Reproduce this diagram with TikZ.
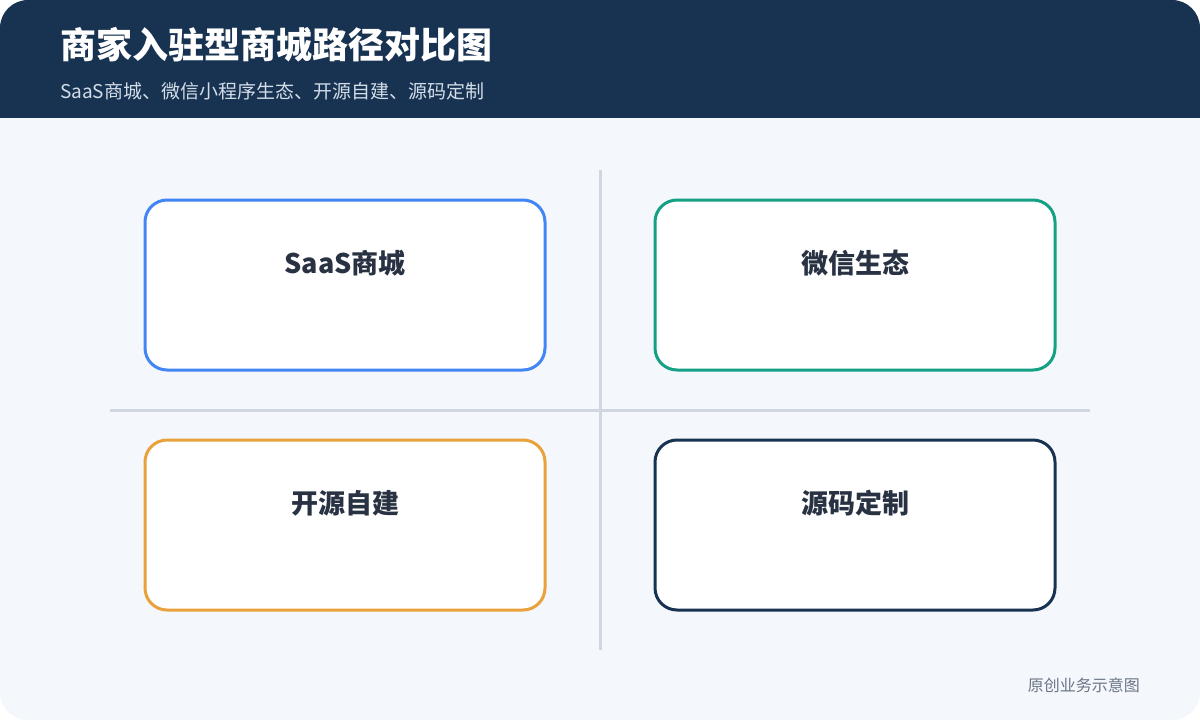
\documentclass[tikz,border=0pt]{standalone}
\usepackage{fontspec}
\setmainfont{Noto Sans CJK SC}
\definecolor{navy}{HTML}{183352}
\definecolor{bgc}{HTML}{F4F7FC}
\definecolor{gridc}{HTML}{D0D7E1}
\definecolor{blu}{HTML}{4285F4}
\definecolor{teal}{HTML}{14A085}
\definecolor{orng}{HTML}{E9A23B}
\definecolor{txt}{HTML}{283242}
\definecolor{subc}{HTML}{D3DDE8}
\definecolor{footc}{HTML}{6B7585}
\tikzset{
  card/.style={draw, line width=3pt, fill=white, rounded corners=22pt, minimum width=400pt, minimum height=170pt, outer sep=0pt, anchor=north west},
  cardlabel/.style={font=\fontsize{27}{32}\selectfont\bfseries, text=txt, anchor=center},
  gridline/.style={draw=gridc, line width=3pt}
}
\begin{document}
\begin{tikzpicture}[x=1pt,y=-1pt]
\useasboundingbox (0,0) rectangle (1200,720);
\fill[white] (0,0) rectangle (1200,720);
\begin{scope}
\clip[rounded corners=28pt] (0,0) rectangle (1200,720);
\fill[bgc] (0,0) rectangle (1200,720);
\fill[navy] (0,0) rectangle (1200,118);
\end{scope}
\node[anchor=base west, text=white, font=\fontsize{36}{40}\selectfont\bfseries, inner sep=0] (title) at (60,58) {商家入驻型商城路径对比图};
\node[anchor=base west, text=subc, font=\fontsize{19}{23}\selectfont, inner sep=0] (sub) at (60,98) {SaaS商城、微信小程序生态、开源自建、源码定制};
\coordinate (vt) at (600,170);
\coordinate (vb) at (600,650);
\coordinate (hl) at (110,410);
\coordinate (hr) at (1090,410);
\draw[gridline] (vt) -- (vb);
\draw[gridline] (hl) -- (hr);
\node[card, draw=blu] (c1) at (145,200) {};
\node[card, draw=teal] (c2) at (655,200) {};
\node[card, draw=orng] (c3) at (145,440) {};
\node[card, draw=navy] (c4) at (655,440) {};
\node[cardlabel] (l1) at ([yshift=-63pt]c1.north) {SaaS商城};
\node[cardlabel] (l2) at ([yshift=-63pt]c2.north) {微信生态};
\node[cardlabel] (l3) at ([yshift=-63pt]c3.north) {开源自建};
\node[cardlabel] (l4) at ([yshift=-63pt]c4.north) {源码定制};
\node[anchor=base east, text=footc, font=\fontsize{16}{19}\selectfont, inner sep=0] (foot) at (1140,691) {原创业务示意图};
\end{tikzpicture}
\end{document}
